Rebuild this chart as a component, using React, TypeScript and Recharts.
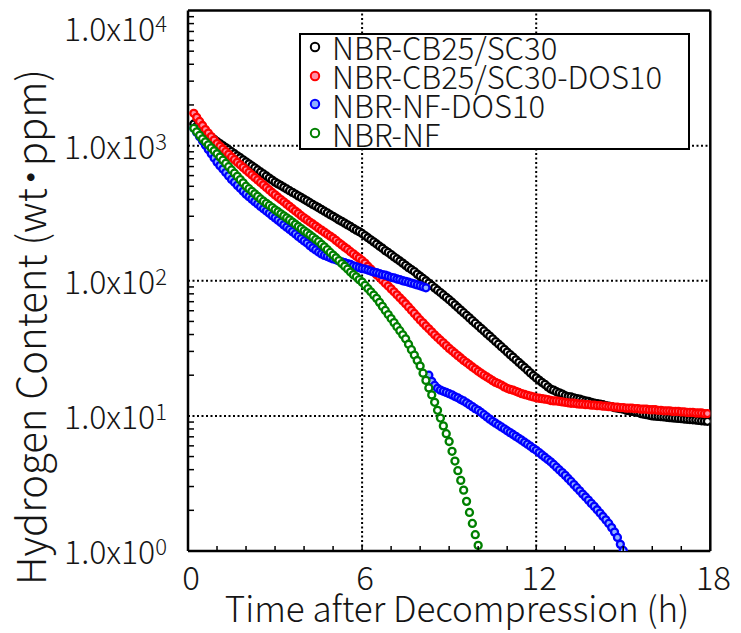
import React from "react";
import { Legend, ReferenceLine, Scatter, ScatterChart, XAxis, YAxis } from "recharts";

const FONT = '"Noto Sans CJK JP", "Noto Sans", sans-serif';
const INK = "#151515";

// logger interval of every run (h)
const STEP_H = 0.1;

// hydrogen content, wt-ppm, one reading per STEP_H
const BLACK_START = 0.2;
const BLACK_PPM = [
  1445, 1393, 1343, 1291, 1245, 1199, 1156, 1112, 1072,
  1035, 1000, 966, 933, 902, 871, 841, 813, 785, 759,
  733, 708, 684, 661, 638, 617, 596, 575, 556, 537,
  521, 507, 492, 478, 464, 451, 438, 425, 413, 401,
  390, 378, 367, 357, 347, 337, 327, 318, 308, 300,
  291, 282, 275, 267, 259, 252, 244, 237, 231, 224,
  216, 208, 201, 194, 187, 180, 174, 167, 162, 156,
  150, 145, 140, 135, 130, 125, 121, 117, 112, 108,
  104, 100, 96.0, 92.3, 88.6, 85.1, 81.8, 78.5, 75.4, 72.4,
  69.3, 66.3, 63.4, 60.6, 58.0, 55.5, 53.1, 50.7, 48.5, 46.4,
  44.4, 42.5, 40.6, 38.9, 37.2, 35.5, 34.0, 32.5, 31.1, 29.7,
  28.4, 27.2, 26.0, 24.9, 23.8, 22.8, 21.8, 20.8, 19.9, 19.1,
  18.4, 17.7, 17.1, 16.4, 15.8, 15.5, 15.1, 14.8, 14.5, 14.1,
  13.9, 13.8, 13.6, 13.4, 13.3, 13.1, 12.9, 12.8, 12.6, 12.4,
  12.3, 12.2, 12.1, 11.9, 11.8, 11.7, 11.5, 11.4, 11.3, 11.2,
  11.0, 10.9, 10.8, 10.7, 10.6, 10.4, 10.3, 10.2, 10.1, 10.0,
  9.95, 9.91, 9.86, 9.82, 9.77, 9.71, 9.66, 9.62, 9.57, 9.53,
  9.48, 9.44, 9.40, 9.35, 9.31, 9.25, 9.20, 9.16, 9.12,
];

const RED_START = 0.2;
const RED_PPM = [
  1734, 1618, 1510, 1409, 1315, 1239, 1167, 1099, 1035,
  989, 944, 902, 861, 822, 787, 753, 721, 690, 661,
  633, 607, 581, 557, 534, 512, 490, 470, 450, 432,
  415, 399, 384, 369, 355, 341, 328, 316, 303, 292,
  282, 272, 263, 254, 245, 237, 229, 221, 214, 207,
  199, 191, 184, 177, 171, 164, 158, 152, 147, 141,
  135, 128, 122, 116, 111, 106, 101, 95.9, 91.4, 87.1,
  82.8, 78.7, 74.8, 71.1, 67.6, 64.0, 60.5, 57.3, 54.2, 51.3,
  48.8, 46.3, 44.1, 41.9, 39.8, 38.0, 36.3, 34.7, 33.1, 31.6,
  30.3, 29.1, 27.9, 26.8, 25.7, 24.8, 23.9, 23.0, 22.2, 21.4,
  20.7, 20.0, 19.4, 18.8, 18.2, 17.7, 17.3, 16.9, 16.4, 16.0,
  15.7, 15.5, 15.2, 14.9, 14.6, 14.4, 14.2, 14.0, 13.8, 13.6,
  13.5, 13.4, 13.3, 13.2, 13.0, 12.9, 12.9, 12.8, 12.7, 12.6,
  12.5, 12.4, 12.4, 12.3, 12.2, 12.2, 12.1, 12.1, 12.0, 12.0,
  11.9, 11.9, 11.8, 11.8, 11.7, 11.7, 11.6, 11.6, 11.5, 11.5,
  11.4, 11.4, 11.4, 11.3, 11.3, 11.2, 11.2, 11.2, 11.1, 11.1,
  11.1, 11.0, 11.0, 10.9, 10.9, 10.9, 10.8, 10.8, 10.8, 10.7,
  10.7, 10.6, 10.6, 10.6, 10.5, 10.5, 10.5, 10.4, 10.4,
];

// NF-DOS10 run: first stretch, then the readings after the 8.2 h break
const BLUE_START_A = 0.2;
const BLUE_PPM_A = [
  1343, 1250, 1164, 1084, 1009, 938, 873, 811, 755,
  711, 671, 632, 597, 562, 535, 508, 483, 459, 437,
  419, 402, 385, 370, 355, 341, 328, 316, 303, 292,
  281, 270, 259, 249, 240, 231, 222, 213, 205, 197,
  190, 182, 175, 169, 163, 158, 154, 151, 148, 145,
  143, 140, 138, 136, 134, 132, 129, 127, 125, 123,
  122, 120, 118, 116, 115, 113, 111, 110, 108, 106,
  105, 103, 102, 100, 98.9, 97.5, 95.9, 94.6, 93.1, 91.8,
  90.2, 88.7,
];
const BLUE_START_B = 8.3;
const BLUE_PPM_B = [
  20.0, 18.0, 16.8, 16.0, 15.5, 15.2, 14.9, 14.6,
  14.3, 13.9, 13.6, 13.2, 12.9, 12.5, 12.1, 11.7, 11.3, 11.0,
  10.6, 10.2, 9.82, 9.46, 9.12, 8.83, 8.55, 8.28, 8.02, 7.76,
  7.52, 7.28, 7.05, 6.82, 6.61, 6.38, 6.17, 5.96, 5.75, 5.56,
  5.35, 5.14, 4.94, 4.75, 4.57, 4.37, 4.17, 3.98, 3.80, 3.63,
  3.44, 3.27, 3.10, 2.94, 2.79, 2.64, 2.51, 2.38, 2.25, 2.14,
  2.02, 1.91, 1.80, 1.70, 1.60, 1.49, 1.38, 1.26, 1.12, 1.01,
];

const GREEN_START = 0.2;
const GREEN_PPM = [
  1343, 1265, 1191, 1122, 1067, 1014, 964, 916, 871,
  824, 780, 738, 698, 661, 625, 592, 560, 530, 501,
  480, 459, 440, 421, 403, 388, 374, 361, 348, 335,
  324, 313, 302, 292, 282, 272, 262, 252, 243, 234,
  226, 218, 210, 202, 195, 186, 178, 170, 162, 155,
  148, 141, 134, 128, 122, 116, 111, 107, 102, 97.7,
  92.5, 87.5, 82.8, 78.3, 74.1, 69.2, 64.6, 60.3, 56.2, 52.5,
  49.0, 45.7, 42.7, 39.8, 37.2, 33.9, 30.9, 28.2, 25.7, 23.4,
  20.7, 18.3, 16.1, 14.3, 12.6, 11.0, 9.64, 8.43, 7.38, 6.46,
  5.47, 4.63, 3.93, 3.33, 2.82, 2.33, 1.93, 1.60, 1.32, 1.10,
];

const SERIES_NAMES = ["NBR-CB25/SC30", "NBR-CB25/SC30-DOS10", "NBR-NF-DOS10", "NBR-NF"];
const SERIES_STROKE = ["#000000", "#ff0000", "#0000ff", "#008000"];
const SERIES_FILL = ["#ffffff", "#ff8fa6", "#8fb0ff", "#ffffff"];

const X_TICKS = [0, 1, 2, 3, 4, 5, 6, 7, 8, 9, 10, 11, 12, 13, 14, 15, 16, 17, 18];
const X_LABELED = [0, 6, 12, 18];
const Y_TICKS = [
  1, 2, 3, 4, 5, 6, 7, 8, 9,
  10, 20, 30, 40, 50, 60, 70, 80, 90,
  100, 200, 300, 400, 500, 600, 700, 800, 900,
  1000, 2000, 3000, 4000, 5000, 6000, 7000, 8000, 9000,
  10000,
];
const GRID_Y = [10, 100, 1000];
const GRID_X = [6, 12];

type Pt = { t: number; v: number };

const toPoints = (vals: number[], start: number): Pt[] =>
  vals.map((v, i) => ({ t: Math.round((start + i * STEP_H) * 10) / 10, v }));

const blackPts = toPoints(BLACK_PPM, BLACK_START);
const redPts = toPoints(RED_PPM, RED_START);
const bluePts = [...toPoints(BLUE_PPM_A, BLUE_START_A), ...toPoints(BLUE_PPM_B, BLUE_START_B)];
const greenPts = toPoints(GREEN_PPM, GREEN_START);

const ring = (stroke: string, fill: string) => (p: any) =>
  <circle cx={p.cx} cy={p.cy} r={3.5} stroke={stroke} strokeWidth={2.3} fill={fill} />;

function XTick({ x, y, payload }: any) {
  const v = payload.value;
  return (
    <g>
      {v > 0 && v < 18 && <line x1={x} y1={y} x2={x} y2={y - 5} stroke="#000" strokeWidth={1.5} />}
      {X_LABELED.includes(v) && (
        <text x={x + 3} y={y + 27} dy="0.35em" textAnchor="middle" fontSize={33} fontWeight={300} fontFamily={FONT} fill={INK}>
          {v}
        </text>
      )}
    </g>
  );
}

function YTick({ x, y, payload }: any) {
  const v = payload.value;
  const exp = Math.log10(v);
  const decade = Math.abs(exp - Math.round(exp)) < 1e-9;
  if (!decade) {
    return <line x1={x} y1={y} x2={x + 6} y2={y} stroke="#000" strokeWidth={1.5} />;
  }
  const cy = Math.max(y + 2, 22);
  return (
    <text x={x - 21} y={cy} dy="0.35em" textAnchor="end" fontSize={32} fontWeight={300} fontFamily={FONT} fill={INK}>
      1.0x10
      <tspan dy={-9} fontSize={22}>{Math.round(exp)}</tspan>
    </text>
  );
}

function LegendBox() {
  return (
    <div
      style={{
        width: 391,
        height: 117,
        boxSizing: "border-box",
        border: "2px solid #000",
        background: "#fff",
        position: "relative",
        fontFamily: FONT,
        fontWeight: 300,
        fontSize: 31,
        color: INK,
      }}
    >
      {SERIES_NAMES.map((name, i) => (
        <div
          key={name}
          style={{
            position: "absolute",
            left: 7,
            top: i * 28.8 - 2.5,
            height: 28.8,
            display: "flex",
            alignItems: "center",
            whiteSpace: "nowrap",
          }}
        >
          <svg width={14} height={14} style={{ marginRight: 10 }}>
            <circle cx={7} cy={7} r={4.2} stroke={SERIES_STROKE[i]} strokeWidth={2} fill={SERIES_FILL[i]} />
          </svg>
          <span>{name}</span>
        </div>
      ))}
    </div>
  );
}

export default function App() {
  const sets = [blackPts, redPts, bluePts, greenPts];
  return (
    <ScatterChart width={733} height={625} margin={{ top: 2.5, right: 30.7, bottom: 0, left: 0 }}>
      <XAxis
        type="number"
        dataKey="t"
        domain={[0, 18]}
        ticks={X_TICKS}
        interval={0}
        tickSize={0}
        tickMargin={0}
        tickLine={false}
        tick={(p: any) => <XTick {...p} />}
        axisLine={{ stroke: "#000", strokeWidth: 2.5 }}
        height={82}
        allowDataOverflow
        label={{
          content: () => (
            <text x={449} y={602} dy="0.35em" textAnchor="middle" fontSize={35} fontWeight={300} fontFamily={FONT} fill={INK}>
              Time after Decompression (h)
            </text>
          ),
        }}
      />
      <YAxis
        type="number"
        dataKey="v"
        scale="log"
        domain={[1, 10000]}
        ticks={Y_TICKS}
        interval={0}
        tickSize={0}
        tickMargin={0}
        tickLine={false}
        tick={(p: any) => <YTick {...p} />}
        axisLine={{ stroke: "#000", strokeWidth: 2.5 }}
        width={180}
        allowDataOverflow
        label={{
          content: () => (
            <text
              x={24}
              y={319}
              dy="0.35em"
              textAnchor="middle"
              fontSize={40}
              fontWeight={300}
              fontFamily={FONT}
              fill={INK}
              transform="rotate(-90 24 319)"
            >
              Hydrogen Content (wt<tspan dx={-9}>・</tspan>
              <tspan dx={-9}>ppm)</tspan>
            </text>
          ),
        }}
      />
      {GRID_Y.map((g) => (
        <ReferenceLine key={`gy${g}`} y={g} stroke="#000" strokeWidth={2} strokeDasharray="2 2.5" />
      ))}
      {GRID_X.map((g) => (
        <ReferenceLine key={`gx${g}`} x={g} stroke="#000" strokeWidth={2} strokeDasharray="2 2.5" />
      ))}
      <ReferenceLine y={10000} stroke="#000" strokeWidth={2.5} />
      <ReferenceLine x={18} stroke="#000" strokeWidth={2.5} />
      {sets.map((pts, i) => (
        <Scatter
          key={SERIES_NAMES[i]}
          name={SERIES_NAMES[i]}
          data={pts}
          shape={ring(SERIES_STROKE[i], SERIES_FILL[i])}
          isAnimationActive={false}
        />
      ))}
      <Legend
        layout="vertical"
        align="center"
        verticalAlign="middle"
        content={() => <LegendBox />}
        wrapperStyle={{ left: 291, top: 25, width: 391, height: 117 }}
      />
    </ScatterChart>
  );
}
